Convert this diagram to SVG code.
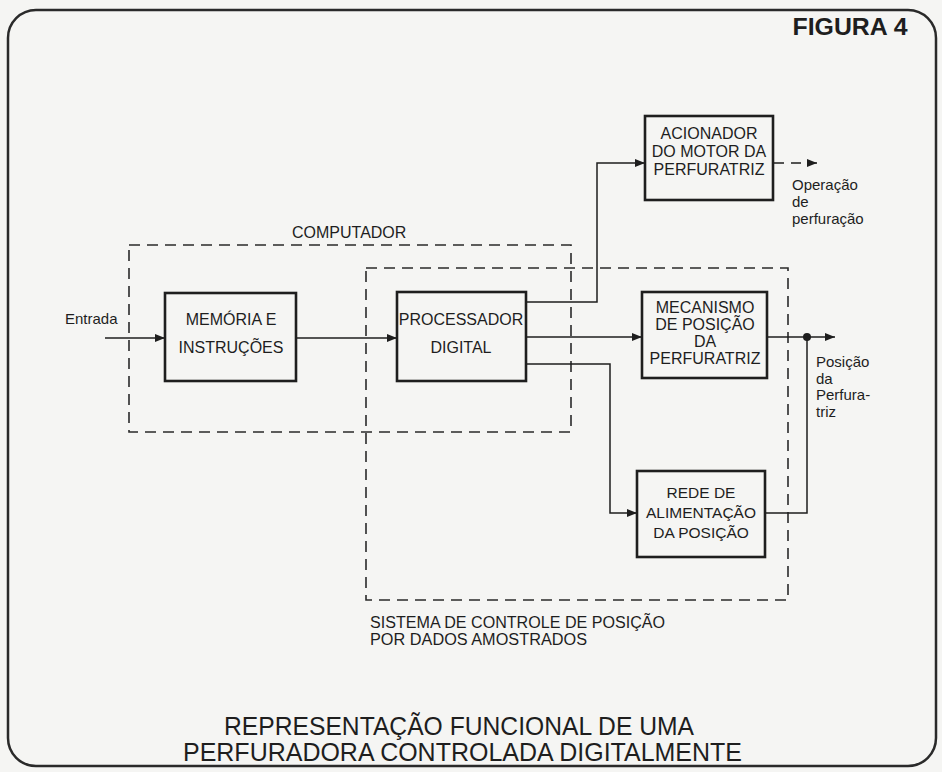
<svg xmlns="http://www.w3.org/2000/svg" width="942" height="772" viewBox="0 0 942 772">
<defs>
<marker id="arr" viewBox="0 0 10 8" refX="10" refY="4" markerWidth="10" markerHeight="8" markerUnits="userSpaceOnUse" orient="auto">
<path d="M0,0 L10,4 L0,8 z" fill="#1e1e1e"/>
</marker>
<style>
.bg{fill:#f5f5f3}
.frame{fill:none;stroke:#2a2a2a;stroke-width:2.5}
.box{fill:none;stroke:#1e1e1e;stroke-width:2.6}
.ln{fill:none;stroke:#1e1e1e;stroke-width:1.5}
.dash{fill:none;stroke:#2a2a2a;stroke-width:1.6;stroke-dasharray:11 7}
.t{font-family:"Liberation Sans",Arial,sans-serif;fill:#1e1e1e;font-size:16px;text-anchor:middle}
.s{font-family:"Liberation Sans",Arial,sans-serif;fill:#1e1e1e;font-size:15px}
.title{font-family:"Liberation Sans",Arial,sans-serif;fill:#1e1e1e;font-size:25px}
</style>
</defs>
<rect class="bg" x="0" y="0" width="942" height="772"/>
<rect class="frame" x="8" y="10" width="928" height="756" rx="28" ry="28"/>
<text x="850" y="35" font-family="Liberation Sans,Arial,sans-serif" font-weight="bold" font-size="24" fill="#1e1e1e" text-anchor="middle" textLength="115" lengthAdjust="spacingAndGlyphs">FIGURA 4</text>

<g id="computador">
<rect class="dash" x="129" y="245" width="442" height="187"/>
<text class="s" x="292" y="238" style="font-size:16px">COMPUTADOR</text>
</g>
<g id="sistema">
<rect class="dash" x="366" y="268" width="422" height="332"/>
<text class="s" x="370" y="628" style="font-size:16px" textLength="295" lengthAdjust="spacingAndGlyphs">SISTEMA DE CONTROLE DE POSIÇÃO</text>
<text class="s" x="370" y="645" style="font-size:16px" textLength="217" lengthAdjust="spacingAndGlyphs">POR DADOS AMOSTRADOS</text>
</g>

<g id="connectors">
<line class="ln" x1="105" y1="338" x2="165" y2="338" marker-end="url(#arr)"/>
<line class="ln" x1="296" y1="338" x2="397" y2="338" marker-end="url(#arr)"/>
<polyline class="ln" points="526,302 597,302 597,163 645,163" marker-end="url(#arr)"/>
<line class="ln" x1="526" y1="337" x2="642" y2="337" marker-end="url(#arr)"/>
<polyline class="ln" points="526,364 610,364 610,513 637,513" marker-end="url(#arr)"/>
<line class="ln" x1="767" y1="337" x2="835" y2="337" marker-end="url(#arr)"/>
<polyline class="ln" points="807,337 807,513 765,513"/>
<circle cx="807" cy="337" r="4" fill="#1e1e1e"/>
<line class="ln" x1="774" y1="163" x2="817" y2="163" stroke-dasharray="10 7" marker-end="url(#arr)"/>
</g>

<g id="entrada">
<text class="s" x="65" y="324">Entrada</text>
</g>
<g id="memoria">
<rect class="box" x="165" y="293" width="131" height="88"/>
<text class="t" x="231" y="325">MEMÓRIA E</text>
<text class="t" x="231" y="353">INSTRUÇÕES</text>
</g>
<g id="processador">
<rect class="box" x="397" y="292" width="129" height="89"/>
<text class="t" x="461" y="325">PROCESSADOR</text>
<text class="t" x="461" y="353">DIGITAL</text>
</g>
<g id="acionador">
<rect class="box" x="645" y="116" width="128" height="84"/>
<text class="t" x="709" y="139">ACIONADOR</text>
<text class="t" x="709" y="157">DO MOTOR DA</text>
<text class="t" x="709" y="175">PERFURATRIZ</text>
</g>
<g id="operacao">
<text class="s" x="792" y="190">Operação</text>
<text class="s" x="792" y="207">de</text>
<text class="s" x="792" y="224">perfuração</text>
</g>
<g id="mecanismo">
<rect class="box" x="642" y="292" width="125" height="86"/>
<text class="t" x="705" y="313">MECANISMO</text>
<text class="t" x="705" y="330">DE POSIÇÃO</text>
<text class="t" x="705" y="347">DA</text>
<text class="t" x="705" y="364">PERFURATRIZ</text>
</g>
<g id="posicao">
<text class="s" x="816" y="367">Posição</text>
<text class="s" x="816" y="384">da</text>
<text class="s" x="816" y="400">Perfura-</text>
<text class="s" x="816" y="417">triz</text>
</g>
<g id="rede">
<rect class="box" x="637" y="471" width="128" height="86"/>
<text class="t" x="701" y="498" style="font-size:15.5px">REDE DE</text>
<text class="t" x="701" y="518" style="font-size:15.5px">ALIMENTAÇÃO</text>
<text class="t" x="701" y="538" style="font-size:15.5px">DA POSIÇÃO</text>
</g>
<g id="titulo">
<text class="title" x="224" y="735" textLength="470" lengthAdjust="spacingAndGlyphs">REPRESENTAÇÃO FUNCIONAL DE UMA</text>
<text class="title" x="183" y="761" textLength="559" lengthAdjust="spacingAndGlyphs">PERFURADORA CONTROLADA DIGITALMENTE</text>
</g>
</svg>
